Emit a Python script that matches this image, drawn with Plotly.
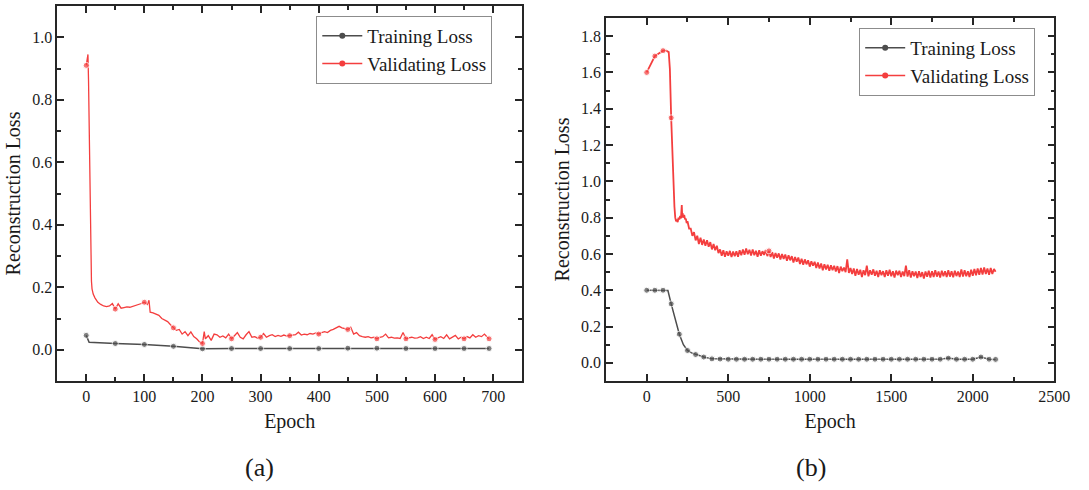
import plotly.graph_objects as go

# ---------------- Panel (a) data ----------------
a_train_epoch = [0, 5, 50, 100, 150, 175, 200, 250, 300, 350, 400, 450, 500, 550, 600, 650, 693]
a_train_loss = [0.046, 0.024, 0.020, 0.017, 0.011, 0.006, 0.003, 0.004, 0.004, 0.004, 0.004,
                0.005, 0.005, 0.004, 0.004, 0.004, 0.004]

a_val_epoch = [0, 2, 3, 4, 5, 6, 7, 8, 9, 10, 12, 15,
               20, 25, 30, 35, 40, 45, 50, 55, 60, 65, 70, 75, 80, 85, 90, 95,
               100, 105, 108, 110, 115, 120, 125, 130, 135, 140, 145, 150, 155, 160, 165,
               170, 175, 180, 185, 190, 195, 200, 203, 205, 210, 215, 220, 225, 230, 235,
               240, 245, 250, 255, 260, 265, 270, 275, 280, 285, 290, 295, 300, 305, 310,
               315, 320, 325, 330, 335, 340, 345, 350, 355, 360, 365, 370, 375, 380, 385,
               390, 395, 400, 405, 410, 415, 420, 425, 430, 435, 440, 445, 450, 455, 460,
               465, 470, 475, 480, 485, 490, 495, 500, 505, 510, 515, 520, 525, 530, 535,
               540, 545, 550, 555, 560, 565, 570, 575, 580, 585, 590, 595, 600, 605, 610,
               615, 620, 625, 630, 635, 640, 645, 650, 655, 660, 665, 670, 675, 680, 685,
               690, 693]
a_val_loss = [0.91, 0.93, 0.945, 0.86, 0.70, 0.50, 0.36, 0.27, 0.22, 0.195, 0.178, 0.166,
              0.152, 0.145, 0.140, 0.138, 0.140, 0.148, 0.130, 0.147, 0.133, 0.135, 0.137,
              0.136, 0.139, 0.141, 0.143, 0.148,
              0.152, 0.145, 0.158, 0.120, 0.118, 0.115, 0.110, 0.100, 0.095, 0.090, 0.080,
              0.070, 0.062, 0.065, 0.050,
              0.058, 0.045, 0.057, 0.042, 0.035, 0.025, 0.020, 0.058, 0.035, 0.045, 0.030,
              0.050, 0.048, 0.040, 0.044,
              0.038, 0.050, 0.035, 0.045, 0.055, 0.040, 0.035, 0.048, 0.058, 0.040, 0.042,
              0.037, 0.040, 0.052, 0.040,
              0.045, 0.048, 0.042, 0.046, 0.043, 0.047, 0.044, 0.045, 0.046, 0.048, 0.056,
              0.047, 0.050, 0.048, 0.052,
              0.050, 0.054, 0.050, 0.055, 0.058, 0.055, 0.062, 0.065, 0.070, 0.075, 0.070,
              0.068, 0.065, 0.072, 0.050,
              0.055, 0.045, 0.042, 0.040, 0.042, 0.038, 0.040, 0.035, 0.040, 0.042, 0.050,
              0.038, 0.040, 0.037, 0.038,
              0.036, 0.055, 0.035, 0.038, 0.040, 0.037, 0.038, 0.042, 0.036, 0.040, 0.036,
              0.048, 0.033, 0.038, 0.042,
              0.036, 0.048, 0.035, 0.040, 0.046, 0.035, 0.040, 0.035, 0.042, 0.038, 0.048,
              0.040, 0.045, 0.042, 0.050,
              0.040, 0.035]

# ---------------- Panel (b) data ----------------
b_train_epoch = [0, 50, 100, 130, 150, 175, 200, 225, 250, 275, 300, 350, 400] + \
                list(range(450, 2101, 50)) + [2140]
b_train_loss = [0.400, 0.400, 0.400, 0.398, 0.325, 0.240, 0.158, 0.100, 0.068, 0.055, 0.046,
                0.032, 0.022] + \
               [0.021, 0.020, 0.020, 0.020, 0.020, 0.020, 0.020, 0.020, 0.020, 0.020, 0.020,
                0.020, 0.020, 0.020, 0.020, 0.020, 0.020, 0.020, 0.020, 0.020, 0.020, 0.020,
                0.020, 0.020, 0.020, 0.020, 0.020, 0.020, 0.026, 0.020, 0.020, 0.020, 0.032,
                0.020, 0.019] + [0.018]

b_val_epoch = [0, 50, 100, 120, 135, 142, 150, 160, 170, 175, 180, 185, 190, 195, 200, 205,
               210, 215, 218, 220, 225, 230, 235, 240, 245] + list(range(250, 2141, 10))
b_val_loss = [1.600, 1.690, 1.720, 1.720, 1.712, 1.620, 1.350, 1.050, 0.860, 0.800, 0.780,
              0.790, 0.775, 0.800, 0.790, 0.810, 0.795, 0.870, 0.800, 0.825, 0.800, 0.815,
              0.790, 0.795, 0.770,
              0.780, 0.740, 0.740, 0.700, 0.720, 0.675, 0.700, 0.655, 0.690, 0.650,
              0.680, 0.645, 0.675, 0.640, 0.665, 0.625, 0.655, 0.620, 0.645, 0.605,
              0.625, 0.590, 0.620, 0.585, 0.615, 0.590, 0.617, 0.583, 0.613, 0.587,
              0.615, 0.585, 0.620, 0.593, 0.625, 0.595, 0.630, 0.598, 0.623, 0.592,
              0.625, 0.593, 0.617, 0.585, 0.620, 0.590, 0.615, 0.595, 0.622, 0.588,
              0.617, 0.583, 0.610, 0.575, 0.605, 0.580, 0.603, 0.570, 0.600, 0.573,
              0.597, 0.563, 0.593, 0.565, 0.588, 0.553, 0.583, 0.557, 0.580, 0.545,
              0.573, 0.540, 0.570, 0.543, 0.565, 0.530, 0.560, 0.535, 0.557, 0.523,
              0.553, 0.520, 0.547, 0.510, 0.543, 0.515, 0.540, 0.507, 0.537, 0.510,
              0.535, 0.503, 0.533, 0.495, 0.530, 0.505, 0.525, 0.500, 0.570, 0.495,
              0.523, 0.490, 0.520, 0.480, 0.517, 0.485, 0.513, 0.473, 0.510, 0.483,
              0.535, 0.477, 0.510, 0.485, 0.515, 0.480, 0.507, 0.473, 0.510, 0.483,
              0.505, 0.473, 0.510, 0.480, 0.513, 0.477, 0.505, 0.470, 0.508, 0.483,
              0.507, 0.473, 0.503, 0.478, 0.535, 0.475, 0.510, 0.470, 0.505, 0.477,
              0.503, 0.467, 0.505, 0.473, 0.500, 0.465, 0.503, 0.475, 0.507, 0.470,
              0.505, 0.473, 0.510, 0.475, 0.503, 0.470, 0.508, 0.477, 0.505, 0.473,
              0.510, 0.475, 0.505, 0.471, 0.507, 0.478, 0.503, 0.473, 0.515, 0.475,
              0.510, 0.477, 0.505, 0.473, 0.513, 0.480, 0.517, 0.483, 0.520, 0.485,
              0.523, 0.487, 0.525, 0.490, 0.520, 0.485, 0.523, 0.490, 0.517, 0.502]

series_names = ["Training Loss", "Validating Loss"]
panel_labels = ["(a)", "(b)"]

# ---------------- Styling ----------------
FONT = "Liberation Serif"
C_TRAIN = "#4d4d4d"
C_VAL = "#f43e3e"
AXIS_C = "#262626"
TXT_C = "#1a1a1a"


def marker_sizes(xs, keep, size=6):
    return [size if keep(x) else 0 for x in xs]


fig = go.Figure()


def add_panel(xs_t, ys_t, xs_v, ys_v, xref, yref, legend, keep_t, keep_v, val_width):
    fig.add_trace(go.Scatter(x=xs_t, y=ys_t, mode="lines+markers", xaxis=xref, yaxis=yref,
                             line=dict(color=C_TRAIN, width=1.5),
                             marker=dict(color=C_TRAIN, size=marker_sizes(xs_t, keep_t)),
                             showlegend=False, hoverinfo="skip"))
    fig.add_trace(go.Scatter(x=xs_v, y=ys_v, mode="lines+markers", xaxis=xref, yaxis=yref,
                             line=dict(color=C_VAL, width=val_width),
                             marker=dict(color=C_VAL, size=marker_sizes(xs_v, keep_v)),
                             showlegend=False, hoverinfo="skip"))
    for name, c in zip(series_names, [C_TRAIN, C_VAL]):
        fig.add_trace(go.Scatter(x=[None], y=[None], mode="lines+markers", name=name,
                                 xaxis=xref, yaxis=yref, legend=legend, legendgroup=legend,
                                 line=dict(color=c, width=1.5),
                                 marker=dict(color=c, size=6)))


last_a = a_val_epoch[-1]
add_panel(a_train_epoch, a_train_loss, a_val_epoch, a_val_loss, "x", "y", "legend",
          lambda x: x % 50 == 0 or x == a_train_epoch[-1],
          lambda x: x % 50 == 0 or x == last_a, 1.3)
add_panel(b_train_epoch, b_train_loss, b_val_epoch, b_val_loss, "x2", "y2", "legend2",
          lambda x: x % 50 == 0 or x == b_train_epoch[-1],
          lambda x: x in (0, 50, 100, 150, 750), 1.8)

W, H = 1089, 490


def axis_common():
    return dict(showline=True, linecolor=AXIS_C, linewidth=1.5, mirror="ticks",
                ticks="inside", ticklen=7, tickwidth=1.5, tickcolor=AXIS_C,
                showgrid=False, zeroline=False,
                tickfont=dict(family=FONT, size=16, color=TXT_C),
                title_font=dict(family=FONT, size=20, color=TXT_C))


def minor(d):
    return dict(dtick=d, ticks="inside", ticklen=4, tickwidth=1.5, tickcolor=AXIS_C)


xa = axis_common()
xa.update(domain=[58 / W, 530 / W], range=[-50, 750], tick0=0, dtick=100, minor=minor(50),
          title=dict(text="Epoch", standoff=10), anchor="y")
ya = axis_common()
ya.update(domain=[1 - 381 / H, 1 - 6 / H], range=[-0.1, 1.1], tick0=0, dtick=0.2,
          tickformat=".1f", minor=minor(0.1),
          title=dict(text="Reconstruction Loss", standoff=6), anchor="x")

xb = axis_common()
xb.update(domain=[615 / W, 1070 / W], range=[-250, 2500], tick0=0, dtick=500, minor=minor(250),
          title=dict(text="Epoch", standoff=10), anchor="y2")
yb = axis_common()
yb.update(domain=[1 - 381 / H, 1 - 18 / H], range=[-0.1, 1.9], tick0=0, dtick=0.2,
          tickformat=".1f", minor=minor(0.1),
          title=dict(text="Reconstruction Loss", standoff=6), anchor="x2")

legend_style = dict(font=dict(family=FONT, size=19, color=TXT_C),
                    bordercolor="#8c8c8c", borderwidth=1, bgcolor="rgba(255,255,255,0)",
                    xanchor="left", yanchor="top", tracegroupgap=0, itemwidth=40)

fig.update_layout(
    width=W, height=H, margin=dict(l=0, r=0, t=0, b=0),
    paper_bgcolor="white", plot_bgcolor="white",
    xaxis=xa, yaxis=ya, xaxis2=xb, yaxis2=yb,
    legend=dict(x=321 / W, y=1 - 16 / H, **legend_style),
    legend2=dict(x=872 / W, y=1 - 28 / H, **legend_style),
    annotations=[
        dict(text=panel_labels[0], x=263 / W, y=1 - 467 / H, xref="paper", yref="paper",
             xanchor="center", yanchor="middle", showarrow=False,
             font=dict(family=FONT, size=26, color=TXT_C)),
        dict(text=panel_labels[1], x=823 / W, y=1 - 467 / H, xref="paper", yref="paper",
             xanchor="center", yanchor="middle", showarrow=False,
             font=dict(family=FONT, size=26, color=TXT_C)),
    ],
)

fig.write_html("out.html")
